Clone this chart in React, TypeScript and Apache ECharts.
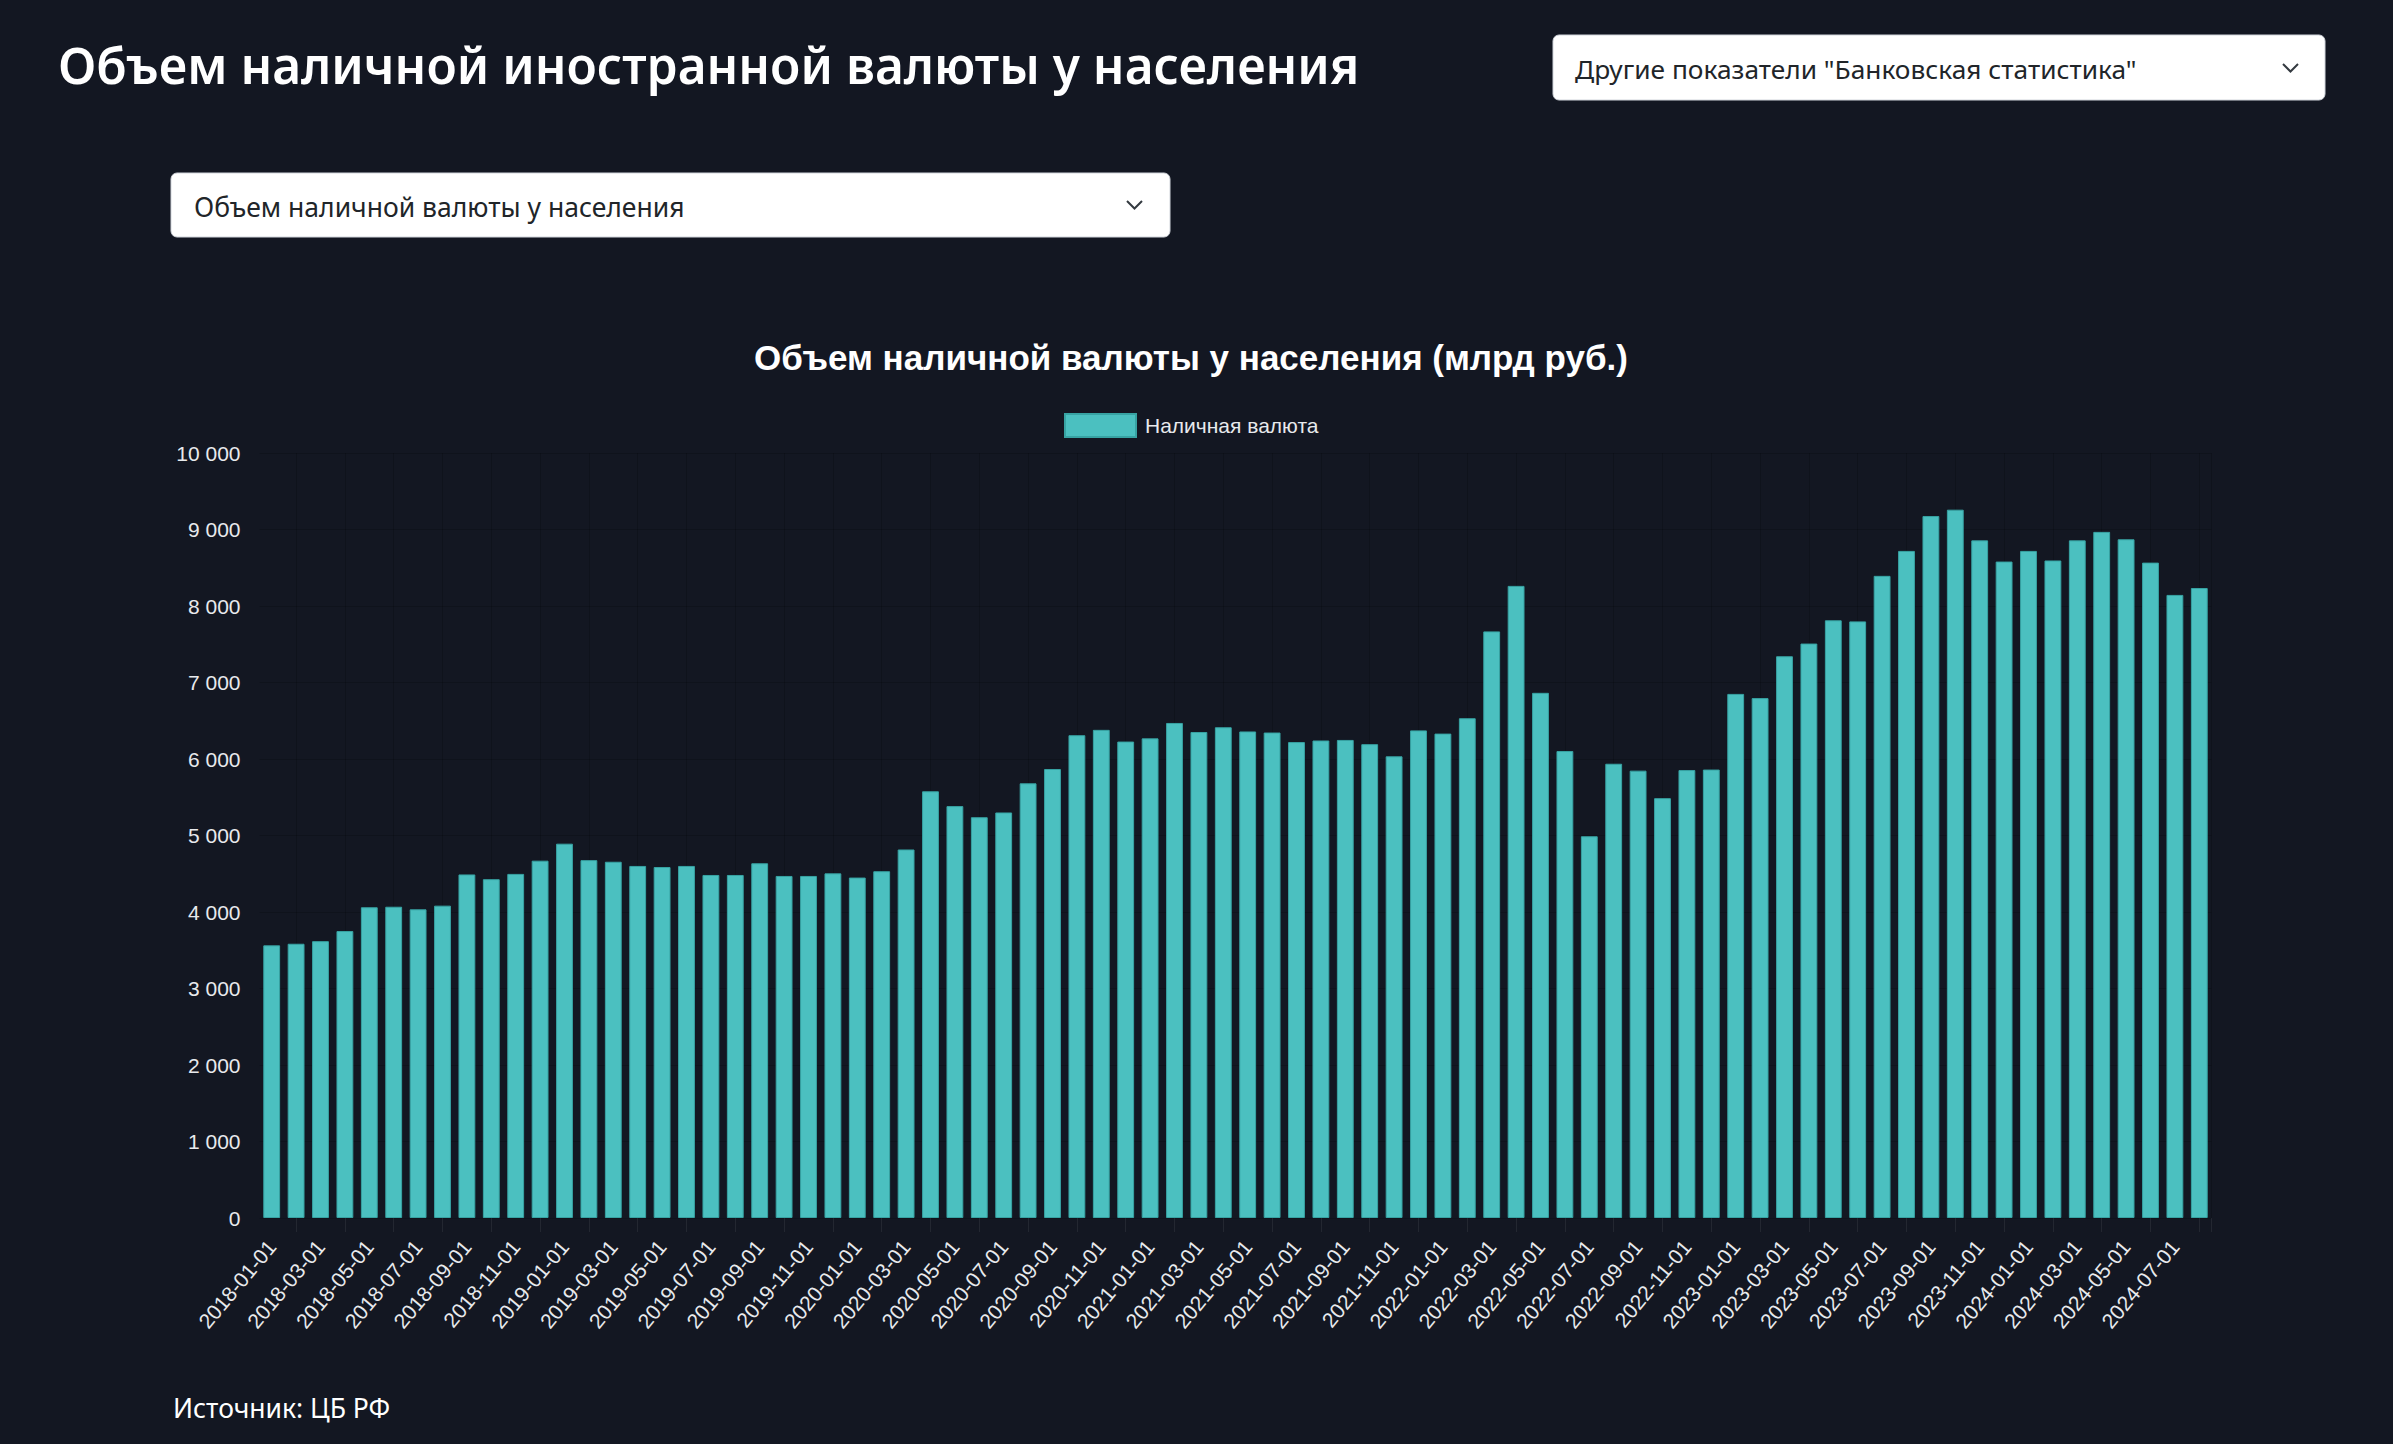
import React, { useEffect, useRef } from "react";
import * as echarts from "echarts";

// ---- Data (млрд руб.), monthly ----
const YEARS = [2018, 2019, 2020, 2021, 2022, 2023, 2024];
const MONTHS = ["01", "02", "03", "04", "05", "06", "07", "08", "09", "10", "11", "12"];

const values2018 = [3564, 3585, 3619, 3751, 4062, 4069, 4035, 4083, 4491, 4429, 4498, 4671];
const values2019 = [4893, 4678, 4657, 4602, 4588, 4602, 4484, 4484, 4637, 4471, 4471, 4505];
const values2020 = [4450, 4533, 4817, 5578, 5384, 5239, 5301, 5682, 5869, 6311, 6381, 6228];
const values2021 = [6270, 6471, 6353, 6415, 6360, 6346, 6221, 6242, 6249, 6194, 6035, 6374];
const values2022 = [6332, 6533, 7668, 8263, 6865, 6104, 4990, 5938, 5848, 5488, 5855, 5862];
const values2023 = [6851, 6796, 7343, 7509, 7813, 7799, 8394, 8720, 9176, 9259, 8858, 8581];
const values2024 = [8720, 8595, 8858, 8969, 8872, 8567, 8145, 8235];

const yearValues = [values2018, values2019, values2020, values2021, values2022, values2023, values2024];

const Y_MIN = 0;
const Y_MAX = 10000;
const Y_STEP = 1000;

const PAGE_TITLE = "Объем наличной иностранной валюты у населения";
const DROPDOWN_TOP = 'Другие показатели "Банковская статистика"';
const DROPDOWN_INDICATOR = "Объем наличной валюты у населения";
const CHART_TITLE = "Объем наличной валюты у населения (млрд руб.)";
const SERIES_NAME = "Наличная валюта";
const SOURCE = "Источник: ЦБ РФ";

const categories: string[] = [];
const values: number[] = [];
YEARS.forEach((y, yi) => {
  yearValues[yi].forEach((v, mi) => {
    categories.push(`${y}-${MONTHS[mi]}-01`);
    values.push(v);
  });
});
// half-slots used only for placing the faint vertical grid lines (Chart.js-like offset grid)
const halfSlots: string[] = [];
categories.forEach((c) => {
  halfSlots.push(c + "-a");
  halfSlots.push(c + "-b");
});

const BG = "#131722";
const TEAL = "#4bc0c0";
const TEAL_BORDER = "#37a3a3";
const GRID_COLOR = "rgba(0,0,0,0.16)";
const LABEL_COLOR = "#e8eaed";

const fmt = (v: number) => String(v).replace(/\B(?=(\d{3})+(?!\d))/g, " ");

export default function App() {
  const ref = useRef<HTMLDivElement>(null);

  useEffect(() => {
    if (!ref.current) return;
    const chart = echarts.init(ref.current, undefined, { renderer: "svg" });
    const uiFont = "'Noto Sans', 'Open Sans', sans-serif";
    const chartFont = "'Liberation Sans', Arial, sans-serif";
    const option: any = {
      animation: false,
      backgroundColor: BG,
      textStyle: { fontFamily: chartFont },
      title: {
        text: CHART_TITLE,
        left: 1186,
        top: 335,
        textAlign: "center",
        textStyle: { color: "#ffffff", fontSize: 35, fontWeight: "bold", fontFamily: chartFont },
      },
      legend: {
        data: [SERIES_NAME],
        left: 1059,
        top: 408,
        icon: "rect",
        itemWidth: 71,
        itemHeight: 23,
        textStyle: { color: LABEL_COLOR, fontSize: 21, padding: [0, 0, 0, 4], fontFamily: chartFont },
      },
      grid: { left: 259.5, right: 181.5, top: 453, bottom: 226, containLabel: false },
      xAxis: [
        {
          type: "category",
          data: categories,
          boundaryGap: true,
          axisLine: { show: false },
          axisTick: { show: false },
          splitLine: { show: false },
          axisLabel: {
            interval: 1,
            rotate: 50,
            color: LABEL_COLOR,
            fontSize: 21,
            margin: 25,
            fontFamily: chartFont,
          },
        },
        {
          type: "category",
          data: halfSlots,
          boundaryGap: true,
          position: "bottom",
          axisLine: { show: false },
          axisLabel: { show: false },
          axisTick: {
            show: true,
            length: 14,
            interval: (i: number) => i % 4 === 3,
            lineStyle: { color: "rgba(255,255,255,0.07)", width: 1 },
          },
          splitLine: {
            show: true,
            interval: (i: number) => i % 4 === 3,
            lineStyle: { color: GRID_COLOR, width: 1 },
          },
        },
      ],
      yAxis: {
        type: "value",
        min: Y_MIN,
        max: Y_MAX,
        interval: Y_STEP,
        axisLine: { show: false },
        axisTick: { show: false },
        splitLine: { show: true, lineStyle: { color: GRID_COLOR, width: 1 } },
        axisLabel: {
          color: LABEL_COLOR,
          fontSize: 21,
          margin: 19,
          fontFamily: chartFont,
          formatter: (v: number) => fmt(v),
        },
      },
      series: [
        {
          name: SERIES_NAME,
          type: "bar",
          xAxisIndex: 0,
          data: values,
          barCategoryGap: "31%",
          itemStyle: { color: TEAL, borderColor: TEAL_BORDER, borderWidth: 1 },
        },
      ],
      graphic: [
        {
          type: "text",
          x: 58,
          y: 65,
          style: {
            text: PAGE_TITLE,
            fill: "#ffffff",
            font: `600 49.7px ${uiFont}`,
            textVerticalAlign: "middle",
            textAlign: "left",
          },
        },
        {
          type: "rect",
          shape: { x: 1553, y: 35, width: 772, height: 65, r: 6 },
          style: { fill: "#ffffff", stroke: "#d1d5db", lineWidth: 1 },
        },
        {
          type: "text",
          x: 1575,
          y: 69,
          style: {
            text: DROPDOWN_TOP,
            fill: "#212529",
            font: `400 26.3px ${uiFont}`,
            textVerticalAlign: "middle",
            textAlign: "left",
          },
        },
        {
          type: "polyline",
          shape: { points: [[2283, 64], [2290.5, 71.5], [2298, 64]] },
          style: { stroke: "#343a40", lineWidth: 2, fill: null },
        },
        {
          type: "rect",
          shape: { x: 171, y: 173, width: 999, height: 64, r: 6 },
          style: { fill: "#ffffff", stroke: "#d1d5db", lineWidth: 1 },
        },
        {
          type: "text",
          x: 194,
          y: 207,
          style: {
            text: DROPDOWN_INDICATOR,
            fill: "#212529",
            font: `400 26.5px ${uiFont}`,
            textVerticalAlign: "middle",
            textAlign: "left",
          },
        },
        {
          type: "polyline",
          shape: { points: [[1127, 201], [1134.5, 208.5], [1142, 201]] },
          style: { stroke: "#343a40", lineWidth: 2, fill: null },
        },
        {
          type: "text",
          x: 173,
          y: 1408,
          style: {
            text: SOURCE,
            fill: "#ffffff",
            font: `400 26.5px ${uiFont}`,
            textVerticalAlign: "middle",
            textAlign: "left",
          },
        },
      ],
    };
    chart.setOption(option);
    return () => chart.dispose();
  }, []);

  return (
    <div
      ref={ref}
      style={{ position: "fixed", left: 0, top: 0, width: 2393, height: 1444, background: BG }}
    />
  );
}
